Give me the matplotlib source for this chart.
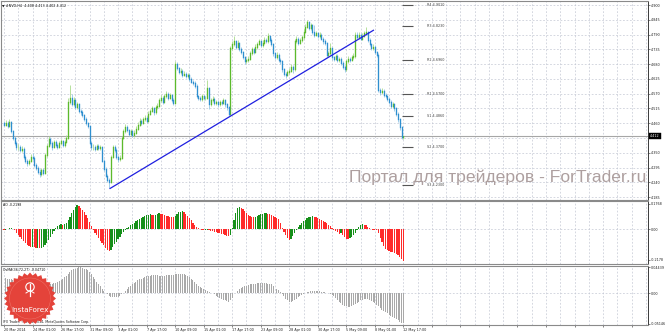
import matplotlib
matplotlib.use('Agg')
import matplotlib.pyplot as plt
import numpy as np
from matplotlib.patches import Polygon, Circle

# ---------------- data ----------------
first_open = 4.460
close = [
    4.455, 4.462, 4.450, 4.466, 4.430, 4.405, 4.385, 4.370, 4.372, 4.360,
    4.365, 4.335, 4.320, 4.310, 4.318, 4.335, 4.330, 4.305, 4.295, 4.280,
    4.270, 4.285, 4.275, 4.340, 4.375, 4.400, 4.385, 4.370, 4.390, 4.380,
    4.372, 4.385, 4.392, 4.378, 4.390, 4.405, 4.540, 4.552, 4.530, 4.545,
    4.520, 4.530, 4.505, 4.500, 4.490, 4.475, 4.460, 4.450, 4.385, 4.370,
    4.372, 4.365, 4.375, 4.368, 4.372, 4.320, 4.290, 4.265, 4.250, 4.240,
    4.335, 4.370, 4.360, 4.335, 4.325, 4.330, 4.405, 4.430, 4.445, 4.435,
    4.420, 4.430, 4.415, 4.425, 4.440, 4.455, 4.470, 4.460, 4.475, 4.480,
    4.470, 4.495, 4.505, 4.515, 4.500, 4.520, 4.525, 4.545, 4.555, 4.540,
    4.560, 4.570, 4.555, 4.565, 4.545, 4.535, 4.680, 4.665, 4.650, 4.655,
    4.640, 4.645, 4.635, 4.640, 4.625, 4.615, 4.610, 4.600, 4.560, 4.555,
    4.550, 4.560, 4.552, 4.555, 4.590, 4.530, 4.545, 4.550, 4.535, 4.540,
    4.530, 4.540, 4.535, 4.545, 4.530, 4.520, 4.495, 4.740, 4.755, 4.765,
    4.745, 4.760, 4.735, 4.725, 4.705, 4.690, 4.695, 4.700, 4.720, 4.735,
    4.725, 4.745, 4.755, 4.765, 4.750, 4.760, 4.770, 4.765, 4.785, 4.770,
    4.755, 4.720, 4.705, 4.715, 4.695, 4.690, 4.660, 4.645, 4.640, 4.650,
    4.655, 4.670, 4.660, 4.765, 4.775, 4.760, 4.770, 4.780, 4.800, 4.820,
    4.835, 4.815, 4.825, 4.800, 4.790, 4.795, 4.785, 4.790, 4.775, 4.765,
    4.760, 4.715, 4.720, 4.740, 4.705, 4.700, 4.710, 4.695, 4.700, 4.685,
    4.670, 4.660, 4.690, 4.700, 4.695, 4.705, 4.710, 4.790, 4.780, 4.790,
    4.775, 4.785, 4.795, 4.800, 4.770, 4.755, 4.740, 4.745, 4.725, 4.715,
    4.585, 4.575, 4.580, 4.565, 4.560, 4.550, 4.540, 4.525, 4.530, 4.515,
    4.495, 4.475, 4.445, 4.408, 4.412,
]
high = [
    4.468, 4.472, 4.470, 4.474, 4.470, 4.436, 4.412, 4.392, 4.382, 4.380,
    4.374, 4.370, 4.342, 4.328, 4.326, 4.345, 4.348, 4.336, 4.312, 4.302,
    4.288, 4.294, 4.292, 4.348, 4.384, 4.412, 4.408, 4.392, 4.398, 4.396,
    4.388, 4.394, 4.402, 4.398, 4.398, 4.416, 4.552, 4.602, 4.568, 4.558,
    4.552, 4.540, 4.536, 4.512, 4.508, 4.496, 4.482, 4.466, 4.455, 4.392,
    4.382, 4.380, 4.384, 4.382, 4.380, 4.376, 4.326, 4.296, 4.272, 4.256,
    4.342, 4.380, 4.378, 4.366, 4.342, 4.340, 4.412, 4.440, 4.456, 4.452,
    4.440, 4.438, 4.436, 4.434, 4.448, 4.464, 4.480, 4.476, 4.484, 4.490,
    4.486, 4.504, 4.514, 4.524, 4.520, 4.528, 4.534, 4.554, 4.566, 4.560,
    4.570, 4.580, 4.576, 4.574, 4.570, 4.552, 4.690, 4.686, 4.670, 4.664,
    4.660, 4.654, 4.650, 4.648, 4.646, 4.632, 4.622, 4.616, 4.605, 4.566,
    4.562, 4.568, 4.566, 4.562, 4.620, 4.594, 4.554, 4.560, 4.556, 4.548,
    4.546, 4.548, 4.546, 4.552, 4.550, 4.536, 4.524, 4.748, 4.766, 4.785,
    4.770, 4.770, 4.764, 4.742, 4.730, 4.712, 4.704, 4.710, 4.728, 4.745,
    4.740, 4.754, 4.764, 4.775, 4.770, 4.768, 4.780, 4.778, 4.797, 4.790,
    4.776, 4.760, 4.726, 4.724, 4.720, 4.702, 4.694, 4.666, 4.652, 4.658,
    4.664, 4.680, 4.676, 4.772, 4.786, 4.780, 4.778, 4.790, 4.810, 4.830,
    4.845, 4.840, 4.834, 4.830, 4.825, 4.804, 4.800, 4.798, 4.796, 4.780,
    4.772, 4.764, 4.730, 4.760, 4.744, 4.712, 4.718, 4.716, 4.708, 4.706,
    4.690, 4.676, 4.698, 4.710, 4.708, 4.714, 4.720, 4.798, 4.800, 4.800,
    4.796, 4.794, 4.805, 4.818, 4.805, 4.776, 4.760, 4.754, 4.750, 4.730,
    4.720, 4.592, 4.590, 4.586, 4.572, 4.566, 4.556, 4.546, 4.538, 4.536,
    4.520, 4.500, 4.480, 4.450, 4.413,
]
low = [
    4.448, 4.450, 4.442, 4.446, 4.425, 4.398, 4.378, 4.362, 4.360, 4.352,
    4.354, 4.328, 4.312, 4.302, 4.304, 4.314, 4.322, 4.298, 4.286, 4.272,
    4.260, 4.264, 4.266, 4.272, 4.334, 4.370, 4.378, 4.362, 4.366, 4.372,
    4.364, 4.368, 4.380, 4.370, 4.372, 4.386, 4.400, 4.532, 4.524, 4.524,
    4.512, 4.514, 4.498, 4.492, 4.482, 4.468, 4.452, 4.442, 4.378, 4.362,
    4.362, 4.358, 4.360, 4.360, 4.362, 4.314, 4.282, 4.258, 4.242, 4.220,
    4.236, 4.330, 4.352, 4.328, 4.316, 4.318, 4.326, 4.400, 4.424, 4.428,
    4.412, 4.414, 4.408, 4.410, 4.420, 4.436, 4.450, 4.452, 4.456, 4.470,
    4.462, 4.466, 4.490, 4.500, 4.492, 4.496, 4.514, 4.520, 4.540, 4.532,
    4.536, 4.554, 4.548, 4.550, 4.538, 4.528, 4.530, 4.658, 4.642, 4.644,
    4.632, 4.634, 4.628, 4.628, 4.618, 4.608, 4.602, 4.592, 4.552, 4.546,
    4.542, 4.544, 4.546, 4.546, 4.550, 4.512, 4.524, 4.540, 4.528, 4.528,
    4.522, 4.524, 4.528, 4.530, 4.522, 4.510, 4.485, 4.490, 4.732, 4.748,
    4.738, 4.740, 4.728, 4.716, 4.698, 4.682, 4.684, 4.688, 4.694, 4.714,
    4.718, 4.720, 4.738, 4.750, 4.742, 4.744, 4.754, 4.758, 4.760, 4.762,
    4.748, 4.712, 4.698, 4.700, 4.688, 4.680, 4.652, 4.636, 4.630, 4.634,
    4.644, 4.650, 4.648, 4.654, 4.758, 4.752, 4.754, 4.764, 4.774, 4.794,
    4.814, 4.808, 4.808, 4.792, 4.782, 4.784, 4.776, 4.778, 4.768, 4.756,
    4.750, 4.706, 4.708, 4.714, 4.696, 4.692, 4.694, 4.688, 4.688, 4.678,
    4.662, 4.652, 4.656, 4.684, 4.688, 4.690, 4.698, 4.704, 4.772, 4.774,
    4.768, 4.770, 4.780, 4.790, 4.762, 4.746, 4.732, 4.734, 4.718, 4.706,
    4.578, 4.566, 4.568, 4.558, 4.552, 4.542, 4.532, 4.516, 4.518, 4.506,
    4.486, 4.466, 4.436, 4.400, 4.402,
]
ao = [
    -0.008, -0.005, 0.002, 0.006, 0.008, 0.000, -0.010, -0.025, -0.040, -0.055,
    -0.070, -0.085, -0.098, -0.110, -0.120, -0.127, -0.124, -0.128, -0.132, -0.130,
    -0.134, -0.131, -0.128, -0.115, -0.095, -0.075, -0.055, -0.035, -0.015, 0.005,
    0.020, 0.028, 0.032, 0.030, 0.035, 0.040, 0.060, 0.085, 0.110, 0.135,
    0.155, 0.168, 0.162, 0.150, 0.135, 0.118, 0.098, 0.075, 0.050, 0.020,
    -0.005, -0.025, -0.045, -0.065, -0.085, -0.100, -0.115, -0.130, -0.145, -0.158,
    -0.145, -0.125, -0.105, -0.090, -0.072, -0.055, -0.038, -0.020, -0.005, 0.005,
    0.015, 0.025, 0.035, 0.045, 0.053, 0.060, 0.068, 0.075, 0.082, 0.090,
    0.097, 0.102, 0.105, 0.100, 0.098, 0.102, 0.108, 0.110, 0.108, 0.104,
    0.100, 0.095, 0.092, 0.088, 0.085, 0.082, 0.095, 0.108, 0.118, 0.122,
    0.124, 0.118, 0.105, 0.090, 0.075, 0.060, 0.045, 0.030, 0.015, 0.004,
    -0.002, -0.005, -0.008, -0.007, -0.006, -0.008, -0.012, -0.015, -0.018, -0.022,
    -0.025, -0.030, -0.034, -0.038, -0.042, -0.046, -0.050, -0.040, 0.010, 0.060,
    0.110, 0.150, 0.157, 0.150, 0.138, 0.125, 0.112, 0.100, 0.092, 0.085,
    0.082, 0.088, 0.094, 0.100, 0.105, 0.108, 0.110, 0.111, 0.108, 0.105,
    0.100, 0.092, 0.085, 0.078, 0.068, 0.040, 0.005, -0.020, -0.045, -0.065,
    -0.077, -0.070, -0.050, -0.030, -0.005, 0.015, 0.030, 0.045, 0.055, 0.065,
    0.075, 0.082, 0.088, 0.092, 0.088, 0.082, 0.075, 0.070, 0.062, 0.055,
    0.048, 0.040, 0.030, 0.020, 0.005, -0.005, -0.012, -0.018, -0.035, -0.030,
    -0.040, -0.055, -0.068, -0.072, -0.065, -0.055, -0.040, -0.025, -0.005, 0.015,
    0.028, 0.033, 0.030, 0.025, 0.015, 0.005, -0.002, -0.004, -0.006, -0.008,
    -0.030, -0.060, -0.090, -0.120, -0.140, -0.148, -0.152, -0.160, -0.165, -0.170,
    -0.175, -0.185, -0.198, -0.210, -0.225,
]
osma = [
    0.026, 0.026, 0.025, 0.025, 0.024, 0.023, 0.022, 0.021, 0.020, 0.019,
    0.018, 0.017, 0.016, 0.015, 0.014, 0.013, 0.013, 0.012, 0.012, 0.011,
    0.011, 0.011, 0.011, 0.012, 0.013, 0.014, 0.015, 0.016, 0.017, 0.018,
    0.019, 0.021, 0.023, 0.025, 0.027, 0.030, 0.033, 0.036, 0.039, 0.041,
    0.042, 0.043, 0.044, 0.044, 0.043, 0.042, 0.041, 0.039, 0.036, 0.032,
    0.028, 0.024, 0.020, 0.016, 0.012, 0.008, 0.004, 0.001, -0.002, -0.004,
    -0.006, -0.007, -0.007, -0.007, -0.006, -0.004, -0.002, 0.001, 0.004, 0.007,
    0.010, 0.013, 0.016, 0.018, 0.020, 0.022, 0.024, 0.025, 0.026, 0.028,
    0.029, 0.030, 0.030, 0.031, 0.031, 0.031, 0.031, 0.030, 0.030, 0.030,
    0.030, 0.031, 0.031, 0.031, 0.031, 0.031, 0.032, 0.032, 0.033, 0.033,
    0.033, 0.032, 0.031, 0.029, 0.027, 0.025, 0.022, 0.019, 0.016, 0.013,
    0.011, 0.009, 0.007, 0.005, 0.004, 0.002, 0.001, 0.000, -0.002, -0.004,
    -0.006, -0.008, -0.010, -0.011, -0.012, -0.013, -0.014, -0.012, -0.008, -0.004,
    0.000, 0.004, 0.007, 0.009, 0.011, 0.012, 0.013, 0.014, 0.015, 0.015,
    0.016, 0.016, 0.017, 0.017, 0.017, 0.017, 0.017, 0.017, 0.016, 0.016,
    0.015, 0.013, 0.011, 0.008, 0.005, 0.002, -0.001, -0.005, -0.009, -0.012,
    -0.014, -0.014, -0.013, -0.011, -0.009, -0.007, -0.005, -0.003, -0.001, 0.000,
    0.002, 0.003, 0.004, 0.0045, 0.0045, 0.0045, 0.004, 0.004, 0.003, 0.003,
    0.002, 0.001, 0.000, -0.001, -0.003, -0.005, -0.008, -0.011, -0.014, -0.017,
    -0.019, -0.021, -0.022, -0.023, -0.023, -0.022, -0.020, -0.018, -0.016, -0.014,
    -0.012, -0.011, -0.010, -0.010, -0.010, -0.011, -0.013, -0.015, -0.017, -0.019,
    -0.022, -0.025, -0.028, -0.030, -0.032, -0.034, -0.036, -0.038, -0.040, -0.042,
    -0.044, -0.046, -0.048, -0.050, -0.051,
]
time_labels = ["20 Mar 2014", "24 Mar 01:00", "26 Mar 17:00", "31 Mar 09:00",
               "3 Apr 01:00", "7 Apr 17:00", "10 Apr 09:00", "15 Apr 01:00",
               "17 Apr 17:00", "23 Apr 09:00", "28 Apr 01:00", "30 Apr 17:00",
               "5 May 09:00", "8 May 01:00", "12 May 17:00"]
price_ticks = [4.900, 4.845, 4.790, 4.735, 4.680, 4.625, 4.570, 4.515,
               4.460, 4.405, 4.350, 4.295, 4.240, 4.185]
price_tick_labels = ["4.900", "4.845", "4.790", "4.735", "4.680", "4.625", "4.570",
                     "4.515", "4.460", "", "4.350", "4.295", "4.240", "4.185"]
last_price = 4.412
pivot_names = ["R4", "R3", "R2", "R1", "S1", "S2", "S3"]
pivot_levels = [4.9010, 4.8230, 4.6960, 4.5700, 4.4860, 4.3700, 4.2300]
trend_bar = [59.5, 207.2]
trend_price = [4.217, 4.806]
ao_ticks = [0.1768, 0.0, -0.2178]
ao_tick_labels = ["0.1768", "0.00", "-0.2178"]
osma_ticks = [0.04439, 0.0, -0.05146]
osma_tick_labels = ["0.04439", "0.00", "-0.05146"]
title_text = "\u25BC #NVD,H4  4.408 4.413 4.402 4.412"
ao_text = "AO -0.2198"
osma_text = "OsMA(36,72,27) -0.04710"
copyright_text = "IFX Trader, \u00A9 2001-2014, MetaQuotes Software Corp."
watermark = "Портал для трейдеров - ForTrader.ru"

# ---------------- figure ----------------
W, H = 665, 334
fig = plt.figure(figsize=(W / 100, H / 100), dpi=100)
fig.patch.set_facecolor('white')


def ax_at(x0, y0, x1, y1):
    return fig.add_axes([x0 / W, 1 - y1 / H, (x1 - x0) / W, (y1 - y0) / H])


ax1 = ax_at(1, 1, 648, 200)
ax2 = ax_at(1, 201, 648, 264)
ax3 = ax_at(1, 266, 648, 325)

grid_c = '#c3c7d3'
sep_c = '#8a8a8a'
XMIN, XMAX = -1.68, 361.2
FS = 2.4

c = np.array(close)
o = np.array([first_open] + close[:-1])
h = np.array(high)
l = np.array(low)
idx = np.arange(len(c))
up = c >= o

for ax in (ax1, ax2, ax3):
    ax.set_xlim(XMIN, XMAX)
    ax.set_xticks(np.arange(0, 361, 16))
    ax.set_xticks(np.arange(8, 361, 16), minor=True)
    ax.grid(True, which='both', axis='x', color=grid_c, lw=0.5, ls=(0, (2.5, 2.5)))
    ax.set_axisbelow(True)
    ax.yaxis.tick_right()
    ax.tick_params(axis='y', labelsize=FS, length=1.6, width=0.4, pad=0.6,
                   colors='#222222')
    for s in ('top', 'bottom', 'left'):
        ax.spines[s].set_color(sep_c)
        ax.spines[s].set_linewidth(0.8)
    ax.spines['right'].set_color('#3a3a3a')
    ax.spines['right'].set_linewidth(0.7)

for ax in (ax1, ax2):
    ax.tick_params(axis='x', which='both', length=0, labelbottom=False)

# --- main price panel ---
ax1.set_ylim(4.174, 4.915)
ax1.set_yticks(price_ticks)
ax1.set_yticklabels(price_tick_labels)
ax1.grid(True, axis='y', color=grid_c, lw=0.5, ls=(0, (2.5, 2.5)))
ax1.axhline(last_price, color='#a6a6a6', lw=0.8, zorder=1)

ax1.vlines(idx[up], l[up], h[up], color='#a9dc8c', lw=0.6, zorder=2)
ax1.vlines(idx[~up], l[~up], h[~up], color='#94c8e6', lw=0.6, zorder=2)
ax1.vlines(idx[up], o[up], c[up], color='#5cba2c', lw=0.95, zorder=3,
           capstyle='projecting')
ax1.vlines(idx[~up], o[~up], c[~up], color='#2f8fcf', lw=0.95, zorder=3,
           capstyle='projecting')

ax1.plot(trend_bar, trend_price, color='#1f1fe0', lw=0.9, zorder=4)

ax1.hlines(pivot_levels, 223.2, 229.4, color='#555555', lw=0.8, zorder=4)
for name, lev in zip(pivot_names, pivot_levels):
    ax1.text(237.2, lev, f"{name} {lev:.4f}", fontsize=FS, color='#444444',
             va='center', ha='left')

ax1.text(1.0035, last_price, f"{last_price:.3f}", transform=ax1.get_yaxis_transform(),
         fontsize=FS, color='white', va='center', ha='left', clip_on=False,
         bbox=dict(boxstyle='square,pad=0.35', fc='black', ec='black', lw=0.3))

# --- AO panel ---
ao_arr = np.array(ao)
ao_up = np.r_[False, ao_arr[1:] > ao_arr[:-1]]
ax2.set_ylim(-0.246, 0.197)
ax2.axhline(0, color=grid_c, lw=0.5, ls=(0, (2.5, 2.5)), zorder=0)
ax2.bar(idx, ao_arr, width=0.7, color=np.where(ao_up, '#16901a', '#ff2a2a'),
        linewidth=0, zorder=2)
ax2.set_yticks(ao_ticks)
ax2.set_yticklabels(ao_tick_labels)

# --- OsMA panel ---
ax3.set_ylim(-0.0538, 0.0464)
ax3.axhline(0, color=grid_c, lw=0.5, ls=(0, (2.5, 2.5)), zorder=0)
ax3.bar(idx, osma, width=0.55, color='#a9a9a9', linewidth=0, zorder=2)
ax3.set_yticks(osma_ticks)
ax3.set_yticklabels(osma_tick_labels)
nmaj = len(np.arange(0, 361, 16))
ax3.set_xticklabels(time_labels + [''] * (nmaj - len(time_labels)), ha='left')
ax3.tick_params(axis='x', which='major', labelsize=FS, length=1.5, width=0.4,
                pad=0.8, colors='#222222')
ax3.tick_params(axis='x', which='minor', length=0)

# --- overlay (pixel coordinates) ---
ov = fig.add_axes([0, 0, 1, 1])
ov.set_xlim(0, W)
ov.set_ylim(H, 0)
ov.axis('off')
ov.patch.set_alpha(0)

ov.text(2, 5.5, title_text, fontsize=2.4, color='#111111', va='center', ha='left')
ov.text(3, 205.5, ao_text, fontsize=2.3, color='#111111', va='center', ha='left')
ov.text(3, 270, osma_text, fontsize=2.3, color='#111111', va='center', ha='left')
ov.text(3, 322, copyright_text, fontsize=2.3, color='#222222', va='center',
        ha='left', zorder=1)

ov.text(349, 182, watermark, fontsize=12.6, family='Liberation Sans',
        color='#ad9f9f', va='baseline', ha='left', zorder=5)

# InstaForex seal
k = np.arange(56)
ang = k * np.pi / 28
rad = np.where(k % 2 == 0, 26.0, 23.2)
seal = Polygon(np.c_[30 + rad * np.cos(ang), 298.5 + rad * np.sin(ang)],
               closed=True, fc='#e4433a', ec='none', zorder=3)
ov.add_patch(seal)
ov.add_patch(Circle((30, 298.5), 20.5, fc='none', ec='#ef7a70', lw=0.3, zorder=4))
ov.add_patch(Circle((30, 287), 4.2, fc='none', ec='white', lw=0.8, zorder=4))
ov.plot([30, 30], [284, 296], color='white', lw=0.9, zorder=4)
ov.plot([26, 30, 34], [293, 290.5, 293], color='white', lw=0.7, zorder=4)
ov.text(30, 310, "InstaForex", fontsize=5.2, color='white', ha='center',
        va='center', zorder=5)

fig.savefig('out.png', dpi=100)
